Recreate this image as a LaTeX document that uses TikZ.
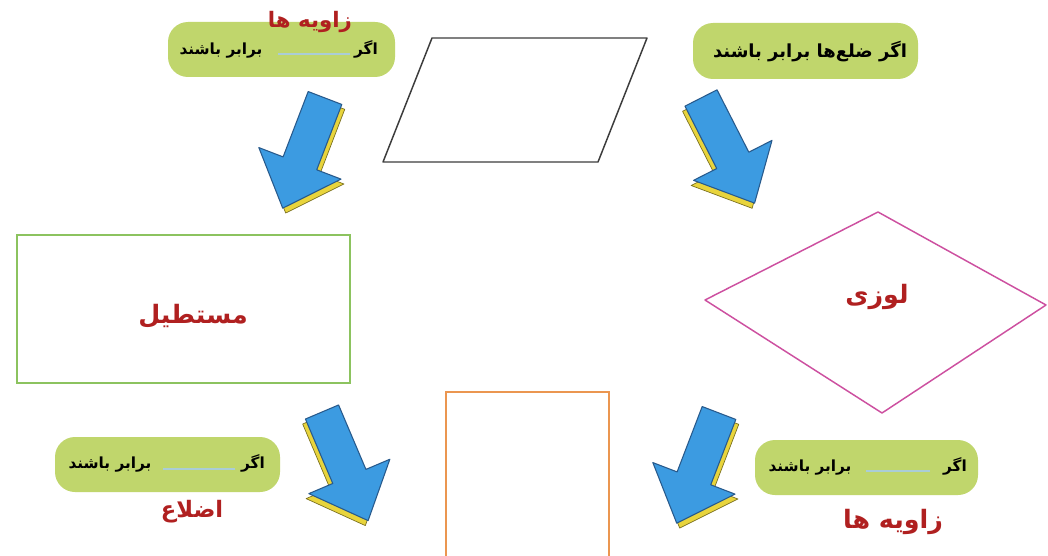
\documentclass[tikz,border=0pt]{standalone}
\usepackage{fontspec}
\newfontfamily\fa[Script=Arabic]{DejaVu Sans}
\TeXXeTstate=1
\definecolor{pillgreen}{RGB}{192,214,108}
\definecolor{labelred}{RGB}{176,32,32}
\definecolor{rectgreen}{RGB}{140,195,95}
\definecolor{rhombpink}{RGB}{205,80,160}
\definecolor{sqorange}{RGB}{235,150,80}
\definecolor{paragray}{RGB}{60,60,60}
\definecolor{arrowblue}{RGB}{60,155,225}
\definecolor{arrowedge}{RGB}{40,90,140}
\definecolor{shadowyellow}{RGB}{232,212,60}
\definecolor{shadowedge}{RGB}{120,110,30}
\definecolor{blankblue}{RGB}{170,205,215}
\tikzset{
  pill/.style={fill=pillgreen, rounded corners=15pt, inner sep=0pt},
  pilltext/.style={font=\fa\bfseries\fontsize{11.5}{13}\selectfont, text=black, inner sep=0pt},
  bigred/.style={font=\fa\bfseries\fontsize{16}{18}\selectfont, text=labelred, inner sep=0pt},
  blankline/.style={draw=blankblue, line width=1.5pt},
  pics/barrow/.style={code={
    \begin{scope}[shift={(#1,3.5)}]
      \filldraw[fill=shadowyellow, draw=shadowedge, line width=0.5pt, line join=round]
        (-18,0) -- (18,0) -- (18,70) -- (44,70) -- (0,118) -- (-44,70) -- (-18,70) -- cycle;
    \end{scope}
    \filldraw[fill=arrowblue, draw=arrowedge, line width=0.8pt, line join=round]
      (-18,0) -- (18,0) -- (18,70) -- (44,70) -- (0,118) -- (-44,70) -- (-18,70) -- cycle;
  }}
}
\begin{document}
\begin{tikzpicture}[x=0.75pt, y=-0.75pt]
\useasboundingbox (0,0) rectangle (1048,556);
\clip (0,0) rectangle (1048,556);
\fill[white] (0,0) rectangle (1048,556);

% parallelogram
\draw[paragray, line width=1.1pt, line join=round] (432,38) -- (647,38) -- (598,162) -- (383,162) -- cycle;

% rectangle
\draw[rectgreen, line width=1.3pt] (17,235) rectangle (350,383);
\node[bigred, font=\fa\bfseries\fontsize{19}{22}\selectfont] (rect) at (193,316) {\beginR مستطیل\endR};

% rhombus
\draw[rhombpink, line width=1.1pt, line join=round] (705,300) -- (878,212) -- (1046,305) -- (882,413) -- cycle;
\node[bigred, font=\fa\bfseries\fontsize{19}{22}\selectfont] (rhomb) at (877,297) {\beginR لوزی\endR};

% square
\draw[sqorange, line width=1.2pt] (446,392) rectangle (609,600);

% arrows
\pic[rotate=-21] at (325,98) {barrow=4.5};
\pic[rotate=27] at (701,98) {barrow=-4.5};
\pic[rotate=23] at (322,412) {barrow=-4.5};
\pic[rotate=-21] at (719,413) {barrow=4.5};

% top-left pill
\node[pill, minimum width=227*0.75pt, minimum height=55*0.75pt] (tlpill) at (281.5,49.5) {};
\node[pilltext] (tlif) at (366,49) {\beginR اگر\endR};
\node[pilltext] (tleq) at (221,51) {\beginR برابر باشند\endR};
\coordinate (tlb1) at (278,54);
\coordinate (tlb2) at (350,54);
\draw[blankline] (tlb1) -- (tlb2);
\node[bigred] (tlred) at (310,22) {\beginR زاویه ها\endR};

% top-right pill
\node[pill, minimum width=225*0.75pt, minimum height=56*0.75pt] (trpill) at (805.5,51) {};
\node[pilltext, font=\fa\bfseries\fontsize{13.5}{15}\selectfont] (trtext) at (810,52) {\beginR اگر ضلع‌ها برابر باشند\endR};

% bottom-left pill
\node[pill, minimum width=225*0.75pt, minimum height=55*0.75pt] (blpill) at (167.5,464.5) {};
\node[pilltext] (blif) at (253,463) {\beginR اگر\endR};
\node[pilltext] (bleq) at (110,465) {\beginR برابر باشند\endR};
\coordinate (blb1) at (163,469);
\coordinate (blb2) at (235,469);
\draw[blankline] (blb1) -- (blb2);
\node[bigred, font=\fa\bfseries\fontsize{17}{20}\selectfont] (blred) at (192,512) {\beginR اضلاع\endR};

% bottom-right pill
\node[pill, minimum width=223*0.75pt, minimum height=55*0.75pt] (brpill) at (866.5,467.5) {};
\node[pilltext] (brif) at (955,466) {\beginR اگر\endR};
\node[pilltext] (breq) at (810,468) {\beginR برابر باشند\endR};
\coordinate (brb1) at (866,471);
\coordinate (brb2) at (930,471);
\draw[blankline] (brb1) -- (brb2);
\node[bigred, font=\fa\bfseries\fontsize{19}{22}\selectfont] (brred) at (893,522) {\beginR زاویه ها\endR};
\end{tikzpicture}
\end{document}
